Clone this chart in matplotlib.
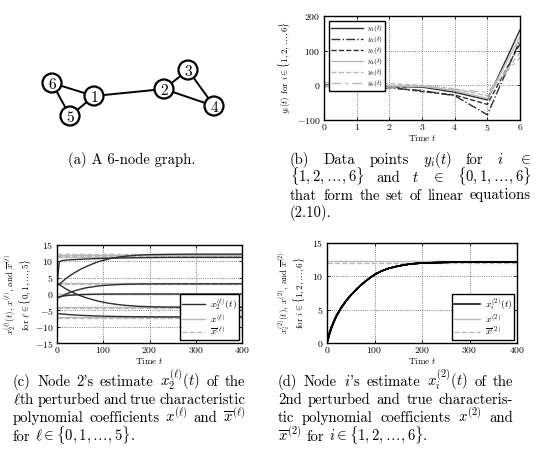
import matplotlib
matplotlib.use('Agg')
import matplotlib.pyplot as plt
from matplotlib.patches import Circle

plt.rcParams.update({
    'font.family': 'serif',
    'font.serif': ['cmr10'],
    'mathtext.fontset': 'cm',
    'axes.formatter.use_mathtext': True,
})

# ---------------- data ----------------
# (a) graph
node_labels = ['1', '2', '3', '4', '5', '6']
node_x = [94, 164, 188, 214, 70, 52]
node_y = [96, 89, 70, 106, 116, 83]
edges = [(1, 2), (1, 5), (1, 6), (5, 6), (2, 3), (2, 4), (3, 4)]

# (b) data points y_i(t)
t_b = [0, 1, 2, 3, 4, 5, 6]
y1 = [2, 0, -5, -5, -20, -42, 160]
y2 = [0, -5, -8, -15, -30, -85, 130]
y3 = [-2, -3, -5, -18, -28, -55, 120]
y4 = [0, 2, -2, -3, -15, -38, 140]
y5 = [8, 5, 5, 0, -10, -30, 95]
y6 = [-5, 8, -8, -2, -12, -20, 80]
b_labels = ['$y_1(t)$', '$y_2(t)$', '$y_3(t)$', '$y_4(t)$', '$y_5(t)$', '$y_6(t)$']

# (c) node 2 estimates of coefficients l = 0..5
t_c = [0, 2, 5, 10, 15, 20, 30, 40, 50, 60, 70, 80, 90, 100, 115, 130, 150, 175, 200, 250, 300, 400]
est_c0 = [2.5, 2.7, 3.0, 3.6, 4.2, 4.8, 5.8, 6.7, 7.5, 8.2, 8.8, 9.4, 9.9, 10.3, 10.85, 11.25,
          11.6, 11.9, 12.05, 12.15, 12.2, 12.2]
est_c1 = [0.5, 6.0, 9.8, 10.2, 10.3, 10.4, 10.5, 10.55, 10.6, 10.7, 10.75, 10.8, 10.85, 10.9,
          10.95, 11.0, 11.05, 11.1, 11.15, 11.2, 11.2, 11.2]
est_c2 = [-1.2, -1.15, -1.0, -0.7, -0.35, 0.0, 0.6, 1.05, 1.45, 1.8, 2.05, 2.25, 2.45, 2.6,
          2.75, 2.88, 2.98, 3.05, 3.08, 3.1, 3.1, 3.1]
est_c3 = [-1.0, -0.95, -0.85, -0.7, -0.6, -0.5, -0.38, -0.28, -0.2, -0.15, -0.1, -0.07, -0.05,
          -0.03, -0.02, -0.01, 0, 0, 0, 0, 0, 0]
est_c4 = [3.3, 3.15, 2.9, 2.4, 1.95, 1.5, 0.75, 0.1, -0.5, -1.0, -1.45, -1.85, -2.2, -2.5,
          -2.9, -3.2, -3.5, -3.75, -3.9, -4.0, -4.05, -4.05]
est_c5 = [-6.0, -6.02, -6.06, -6.12, -6.18, -6.24, -6.34, -6.43, -6.51, -6.58, -6.64, -6.7,
          -6.75, -6.79, -6.84, -6.88, -6.92, -6.96, -6.98, -7.0, -7.0, -7.0]
true_c = [11.9, 11.3, 3.3, 0.1, -3.9, -6.9]
bar_c = [12.3, 11.6, 3.0, -0.1, -4.3, -7.2]

# (d) estimates of coefficient 2 by nodes 1..6
t_d = [0, 1, 2, 4, 6, 8, 10, 15, 20, 30, 40, 50, 60, 70, 80, 90, 100, 115, 130, 150, 175,
       200, 250, 300, 400]
est_d1 = [0, 0.3, 0.6, 1.1, 1.6, 2.0, 2.4, 3.3, 4.1, 5.3, 6.3, 7.15, 7.9, 8.6, 9.2, 9.75,
          10.25, 10.8, 11.2, 11.55, 11.85, 12.0, 12.1, 12.15, 12.15]
est_d2 = [0, 0.4, 0.8, 1.3, 1.7, 2.1, 2.5, 3.35, 4.1, 5.3, 6.3, 7.15, 7.9, 8.6, 9.2, 9.75,
          10.25, 10.8, 11.2, 11.55, 11.85, 12.0, 12.1, 12.15, 12.15]
est_d3 = [0, 0.25, 0.5, 1.0, 1.5, 1.95, 2.35, 3.25, 4.05, 5.3, 6.3, 7.15, 7.9, 8.6, 9.2, 9.75,
          10.25, 10.8, 11.2, 11.55, 11.85, 12.0, 12.1, 12.15, 12.15]
est_d4 = [0, 0.2, 0.45, 0.95, 1.45, 1.9, 2.3, 3.2, 4.0, 5.25, 6.3, 7.15, 7.9, 8.6, 9.2, 9.75,
          10.25, 10.8, 11.2, 11.55, 11.85, 12.0, 12.1, 12.15, 12.15]
est_d5 = [0, 0.5, 0.9, 1.4, 1.8, 2.2, 2.55, 3.4, 4.15, 5.35, 6.35, 7.15, 7.9, 8.6, 9.2, 9.75,
          10.25, 10.8, 11.2, 11.55, 11.85, 12.0, 12.1, 12.15, 12.15]
est_d6 = [0, 0.35, 0.7, 1.2, 1.65, 2.05, 2.45, 3.3, 4.1, 5.3, 6.3, 7.15, 7.9, 8.6, 9.2, 9.75,
          10.25, 10.8, 11.2, 11.55, 11.85, 12.0, 12.1, 12.15, 12.15]
true_d = 12.25
bar_d = 12.05

DARK = '#2e2e2e'
LIGHT = '#b8b8b8'

fig = plt.figure(figsize=(5.37, 4.68), dpi=100)
canvas = fig.add_axes([0, 0, 1, 1])
canvas.set_xlim(0, 537)
canvas.set_ylim(468, 0)
canvas.axis('off')

# ---------------- (a) graph ----------------
pos = {lab: (x, y) for lab, x, y in zip(node_labels, node_x, node_y)}
for a, b in edges:
    xa, ya = pos[str(a)]
    xb, yb = pos[str(b)]
    canvas.plot([xa, xb], [ya, yb], color='black', lw=1.4, zorder=2)
for lab, x, y in zip(node_labels, node_x, node_y):
    canvas.add_patch(Circle((x, y), 9.5, fc='white', ec='black', lw=1.6, zorder=3))
    canvas.text(x, y + 0.5, lab, fontsize=11, ha='center', va='center_baseline', zorder=4)

# ---------------- helpers ----------------
def style(ax):
    ax.grid(True, linestyle=':', color='#555555', lw=0.6)
    ax.tick_params(direction='in', length=2.5, width=0.6, labelsize=7, pad=2.5,
                   top=True, right=True)
    ax.tick_params(axis='x', pad=1.5)
    for s in ax.spines.values():
        s.set_linewidth(1.0)

# ---------------- (b) ----------------
axb = fig.add_axes([324/537, 1-120/468, 196/537, 104/468])
b_series = [y1, y2, y3, y4, y5, y6]
b_colors = [DARK, DARK, DARK, LIGHT, LIGHT, LIGHT]
b_styles = ['-', '-.', '--', '-', '--', (0, (7, 3, 2, 3))]
for ys, c, ls, lab in zip(b_series, b_colors, b_styles, b_labels):
    axb.plot(t_b, ys, color=c, ls=ls, lw=1.0, label=lab)
axb.set_xlim(0, 6)
axb.set_ylim(-100, 200)
axb.set_xticks(range(0, 7))
axb.set_yticks([-100, 0, 100, 200])
style(axb)
axb.set_xlabel('Time $t$', fontsize=6.5)
axb.xaxis.set_label_coords(0.5, -0.17)
axb.xaxis.label.set_va('center')
axb.set_ylabel(r'$y_i(t)$ for $i \in \{1,2,\ldots,6\}$', fontsize=6.5)
axb.yaxis.set_label_coords(-0.158, 0.5)
leg = axb.legend(loc='upper left', fontsize=5.2, handlelength=4.4, fancybox=False,
                 edgecolor='black', framealpha=1, borderpad=0.3, labelspacing=0.0,
                 handletextpad=0.5, borderaxespad=0.7)
leg.get_frame().set_linewidth(1.0)

# ---------------- (c) ----------------
axc = fig.add_axes([57/537, 1-343/468, 185/537, 98/468])
c_est = [est_c0, est_c1, est_c2, est_c3, est_c4, est_c5]
for k in range(6):
    axc.axhline(true_c[k], color=LIGHT, lw=1.0, ls='-', label='$x^{(\\ell)}$' if k == 0 else None)
    axc.axhline(bar_c[k], color=LIGHT, lw=1.0, ls='--',
                label='$\\overline{x}^{(\\ell)}$' if k == 0 else None)
for k in range(6):
    axc.plot(t_c, c_est[k], color=DARK, lw=1.0,
             label='$x_2^{(\\ell)}(t)$' if k == 0 else None)
axc.set_xlim(0, 400)
axc.set_ylim(-15, 15)
axc.set_xticks([0, 100, 200, 300, 400])
axc.set_yticks([-15, -10, -5, 0, 5, 10, 15])
style(axc)
axc.set_xlabel('Time $t$', fontsize=6.5)
axc.xaxis.set_label_coords(0.5, -0.18)
axc.xaxis.label.set_va('center')
axc.set_ylabel('$x_2^{(\\ell)}(t)$, $x^{(\\ell)}$, and $\\overline{x}^{(\\ell)}$\n'
               'for $\\ell \\in \\{0,1,\\ldots,5\\}$', fontsize=6.5, linespacing=1.0)
axc.yaxis.set_label_coords(-0.125, 0.5)
h, l = axc.get_legend_handles_labels()
order = [2, 0, 1]
leg = axc.legend([h[i] for i in order], [l[i] for i in order], loc='lower right',
                 fontsize=7, handlelength=2.4, fancybox=False, edgecolor='black',
                 framealpha=1, borderpad=0.2, labelspacing=0.0, handletextpad=0.5,
                 borderaxespad=0.3)
leg.get_frame().set_linewidth(1.0)

# ---------------- (d) ----------------
axd = fig.add_axes([327/537, 1-343/468, 190/537, 100/468])
axd.axhline(true_d, color=LIGHT, lw=1.0, ls='-', label='$x^{(2)}$')
axd.axhline(bar_d, color=LIGHT, lw=1.0, ls='--', label='$\\overline{x}^{(2)}$')
d_est = [est_d1, est_d2, est_d3, est_d4, est_d5, est_d6]
for k in range(6):
    axd.plot(t_d, d_est[k], color='black', lw=1.1,
             label='$x_i^{(2)}(t)$' if k == 0 else None)
axd.set_xlim(0, 400)
axd.set_ylim(0, 15)
axd.set_xticks([0, 100, 200, 300, 400])
axd.set_yticks([0, 5, 10, 15])
style(axd)
axd.set_xlabel('Time $t$', fontsize=6.5)
axd.xaxis.set_label_coords(0.5, -0.175)
axd.xaxis.label.set_va('center')
axd.set_ylabel('$x_i^{(2)}(t)$, $x^{(2)}$, and $\\overline{x}^{(2)}$\n'
               'for $i \\in \\{1,2,\\ldots,6\\}$', fontsize=6.5, linespacing=1.0)
axd.yaxis.set_label_coords(-0.1, 0.5)
h, l = axd.get_legend_handles_labels()
order = [2, 0, 1]
leg = axd.legend([h[i] for i in order], [l[i] for i in order], loc='lower right',
                 fontsize=7, handlelength=2.6, fancybox=False, edgecolor='black',
                 framealpha=1, borderpad=0.2, labelspacing=0.0, handletextpad=0.5,
                 borderaxespad=0.3)
leg.get_frame().set_linewidth(1.0)

# ---------------- captions ----------------
renderer = fig.canvas.get_renderer()
FS = 10.6


def place_line(words, x0, x1, y, justify=True, fs=FS):
    ts = [canvas.text(x0, y, w, fontsize=fs, va='baseline', ha='left') for w in words]
    ws = [t.get_window_extent(renderer).width for t in ts]
    if justify and len(ts) > 1:
        gap = (x1 - x0 - sum(ws)) / (len(ts) - 1)
    else:
        gap = fs * 0.33 * 100 / 72
    x = x0
    for t, w in zip(ts, ws):
        t.set_x(x)
        x += w + gap


canvas.text(132, 164, '(a) A 6-node graph.', fontsize=FS, ha='center', va='baseline')

bx0, bx1 = 290, 531
place_line(['(b)', 'Data', 'points', '$y_i(t)$', 'for', '$i$', '$\\in$'], bx0, bx1, 164)
place_line(['$\\{1,2,\\ldots,6\\}$', 'and', '$t$', '$\\in$', '$\\{0,1,\\ldots,6\\}$'], bx0, bx1, 182)
place_line('that form the set of linear equations'.split(), bx0, bx1, 199.5)
place_line(['(2.10).'], bx0, bx1, 217, justify=False)

cx0, cx1 = 13, 245
place_line(['(c)', 'Node', "2's", 'estimate', '$x_2^{(\\ell)}(t)$', 'of', 'the'], cx0, cx1, 386)
place_line(['$\\ell$th', 'perturbed', 'and', 'true', 'characteristic'], cx0, cx1, 404)
place_line(['polynomial', 'coefficients', '$x^{(\\ell)}$', 'and', '$\\overline{x}^{(\\ell)}$'],
           cx0, cx1, 422)
place_line(['for', '$\\ell \\in \\{0,1,\\ldots,5\\}$.'], cx0, cx1, 441, justify=False)

dx0, dx1 = 278, 513
place_line(['(d)', 'Node', "$i$'s", 'estimate', '$x_i^{(2)}(t)$', 'of', 'the'], dx0, dx1, 386)
place_line(['2nd', 'perturbed', 'and', 'true', 'characteris-'], dx0, dx1, 404)
place_line(['tic', 'polynomial', 'coefficients', '$x^{(2)}$', 'and'], dx0, dx1, 422)
place_line(['$\\overline{x}^{(2)}$', 'for', '$i \\in \\{1,2,\\ldots,6\\}$.'], dx0, dx1, 441,
           justify=False)

fig.savefig('out.png', dpi=100)
